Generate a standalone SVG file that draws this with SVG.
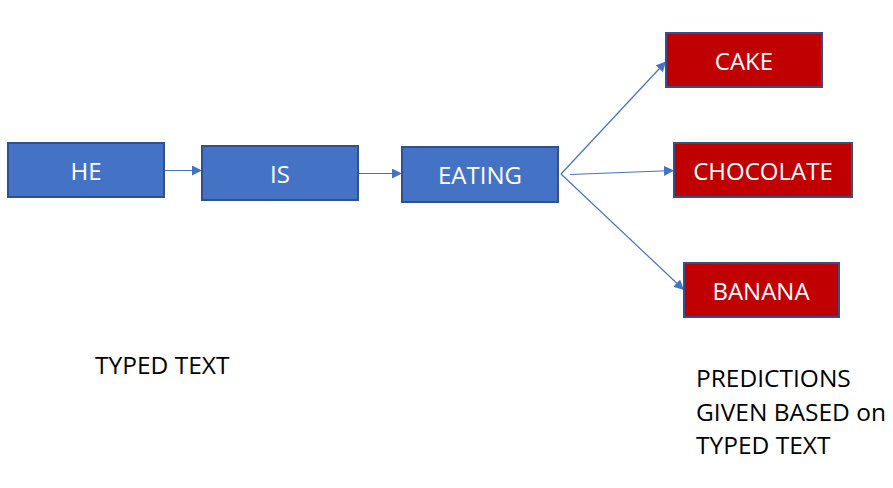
<svg xmlns="http://www.w3.org/2000/svg" width="893" height="488" viewBox="0 0 893 488">
<defs>
<marker id="arr" viewBox="0 0 10 10" refX="10" refY="5" markerWidth="10" markerHeight="10" markerUnits="userSpaceOnUse" orient="auto">
<path d="M0,0 L10,5 L0,10 Z" fill="#4472C4"/>
</marker>
</defs>
<style>
.blue{fill:#4472C4;stroke:#2F528F;stroke-width:2}
.red{fill:#C00000;stroke:#2F528F;stroke-width:2}
.lbl{font-family:"Open Sans","Liberation Sans",sans-serif;font-size:24px;fill:#FFFFFF;text-anchor:middle}
.note{font-family:"Open Sans","Liberation Sans",sans-serif;font-size:24.5px;fill:#000000}
.conn{stroke:#4472C4;stroke-width:1.2;fill:none;marker-end:url(#arr)}
</style>
<rect width="893" height="488" fill="#FFFFFF"/>
<g id="connectors">
<line class="conn" x1="164" y1="170.5" x2="202" y2="170.5"/>
<line class="conn" x1="358" y1="173.5" x2="402" y2="173.5"/>
<line class="conn" x1="561" y1="174" x2="666" y2="61.5"/>
<line class="conn" x1="570" y1="174.5" x2="674" y2="170.5"/>
<line class="conn" x1="561" y1="174" x2="684" y2="290"/>
</g>
<g id="node-he">
<rect class="blue" x="8" y="143" width="156" height="54"/>
<text class="lbl" x="86" y="180">HE</text>
</g>
<g id="node-is">
<rect class="blue" x="202" y="146" width="156" height="54"/>
<text class="lbl" x="280" y="183">IS</text>
</g>
<g id="node-eating">
<rect class="blue" x="402" y="147" width="156" height="55"/>
<text class="lbl" x="480" y="184">EATING</text>
</g>
<g id="node-cake">
<rect class="red" x="666" y="33" width="156" height="54"/>
<text class="lbl" x="744" y="70">CAKE</text>
</g>
<g id="node-chocolate">
<rect class="red" x="674" y="143" width="178" height="54"/>
<text class="lbl" x="763" y="180">CHOCOLATE</text>
</g>
<g id="node-banana">
<rect class="red" x="684" y="263" width="155" height="54"/>
<text class="lbl" x="761" y="300">BANANA</text>
</g>
<g id="note-typed">
<text class="note" x="95" y="374">TYPED TEXT</text>
</g>
<g id="note-predictions">
<text class="note" x="696" y="387">PREDICTIONS</text>
<text class="note" x="696" y="421">GIVEN BASED on</text>
<text class="note" x="696" y="454">TYPED TEXT</text>
</g>
</svg>
